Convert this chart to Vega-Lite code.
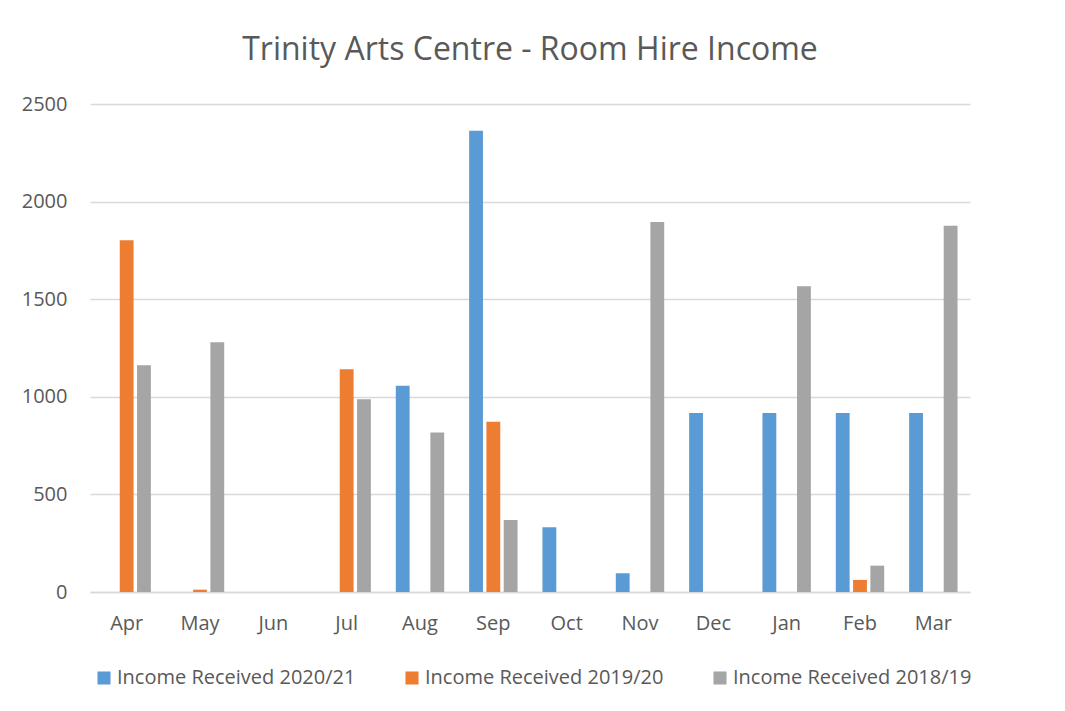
{
  "$schema": "https://vega.github.io/schema/vega-lite/v6.json",
  "autosize": "none",
  "width": 880,
  "height": 488,
  "padding": {"left": 90, "top": 104, "right": 95, "bottom": 119},
  "background": "white",
  "title": {
    "text": "Trinity Arts Centre - Room Hire Income",
    "fontSize": 32,
    "font": "Open Sans",
    "fontWeight": "normal",
    "color": "#595959",
    "anchor": "middle",
    "offset": 27
  },
  "data": {
    "values": [
      {"month": "Apr", "series": "Income Received 2020/21", "value": 0},
      {"month": "Apr", "series": "Income Received 2019/20", "value": 1802},
      {"month": "Apr", "series": "Income Received 2018/19", "value": 1161},
      {"month": "May", "series": "Income Received 2020/21", "value": 0},
      {"month": "May", "series": "Income Received 2019/20", "value": 12},
      {"month": "May", "series": "Income Received 2018/19", "value": 1279},
      {"month": "Jun", "series": "Income Received 2020/21", "value": 0},
      {"month": "Jun", "series": "Income Received 2019/20", "value": 0},
      {"month": "Jun", "series": "Income Received 2018/19", "value": 0},
      {"month": "Jul", "series": "Income Received 2020/21", "value": 0},
      {"month": "Jul", "series": "Income Received 2019/20", "value": 1141},
      {"month": "Jul", "series": "Income Received 2018/19", "value": 988},
      {"month": "Aug", "series": "Income Received 2020/21", "value": 1057},
      {"month": "Aug", "series": "Income Received 2019/20", "value": 0},
      {"month": "Aug", "series": "Income Received 2018/19", "value": 817},
      {"month": "Sep", "series": "Income Received 2020/21", "value": 2363},
      {"month": "Sep", "series": "Income Received 2019/20", "value": 872},
      {"month": "Sep", "series": "Income Received 2018/19", "value": 369},
      {"month": "Oct", "series": "Income Received 2020/21", "value": 332},
      {"month": "Oct", "series": "Income Received 2019/20", "value": 0},
      {"month": "Oct", "series": "Income Received 2018/19", "value": 0},
      {"month": "Nov", "series": "Income Received 2020/21", "value": 96},
      {"month": "Nov", "series": "Income Received 2019/20", "value": 0},
      {"month": "Nov", "series": "Income Received 2018/19", "value": 1895},
      {"month": "Dec", "series": "Income Received 2020/21", "value": 917},
      {"month": "Dec", "series": "Income Received 2019/20", "value": 0},
      {"month": "Dec", "series": "Income Received 2018/19", "value": 0},
      {"month": "Jan", "series": "Income Received 2020/21", "value": 917},
      {"month": "Jan", "series": "Income Received 2019/20", "value": 0},
      {"month": "Jan", "series": "Income Received 2018/19", "value": 1566},
      {"month": "Feb", "series": "Income Received 2020/21", "value": 917},
      {"month": "Feb", "series": "Income Received 2019/20", "value": 62},
      {"month": "Feb", "series": "Income Received 2018/19", "value": 135},
      {"month": "Mar", "series": "Income Received 2020/21", "value": 917},
      {"month": "Mar", "series": "Income Received 2019/20", "value": 0},
      {"month": "Mar", "series": "Income Received 2018/19", "value": 1876}
    ]
  },
  "mark": {"type": "bar"},
  "encoding": {
    "x": {
      "field": "month",
      "type": "nominal",
      "sort": ["Apr","May","Jun","Jul","Aug","Sep","Oct","Nov","Dec","Jan","Feb","Mar"],
      "scale": {"paddingInner": 0.34, "paddingOuter": 0.17},
      "axis": {
        "title": null,
        "labelAngle": 0,
        "labelFont": "Open Sans",
        "labelFontSize": 20,
        "labelColor": "#595959",
        "labelPadding": 21,
        "ticks": false,
        "domainColor": "#d9d9d9",
        "domainWidth": 1.5
      }
    },
    "xOffset": {
      "field": "series",
      "type": "nominal",
      "sort": ["Income Received 2020/21","Income Received 2019/20","Income Received 2018/19"],
      "scale": {"paddingInner": 0.2}
    },
    "y": {
      "field": "value",
      "type": "quantitative",
      "scale": {"domain": [0, 2500]},
      "axis": {
        "title": null,
        "format": "d",
        "values": [0, 500, 1000, 1500, 2000, 2500],
        "labelFont": "Open Sans",
        "labelFontSize": 20,
        "labelColor": "#595959",
        "labelPadding": 23,
        "ticks": false,
        "domain": false,
        "gridColor": "#d9d9d9",
        "gridWidth": 1.5
      }
    },
    "color": {
      "field": "series",
      "type": "nominal",
      "sort": ["Income Received 2020/21","Income Received 2019/20","Income Received 2018/19"],
      "scale": {
        "domain": ["Income Received 2020/21","Income Received 2019/20","Income Received 2018/19"],
        "range": ["#5B9BD5","#ED7D31","#A5A5A5"]
      },
      "legend": {
        "title": null,
        "orient": "none",
        "legendX": 4,
        "legendY": 564,
        "direction": "horizontal",
        "columns": 3,
        "symbolType": "square",
        "symbolSize": 170,
        "symbolStrokeWidth": 0,
        "labelFont": "Open Sans",
        "labelFontSize": 20,
        "labelLimit": 0,
        "labelColor": "#595959",
        "labelOffset": 3,
        "columnPadding": 46
      }
    }
  },
  "config": {
    "view": {"stroke": null}
  }
}
